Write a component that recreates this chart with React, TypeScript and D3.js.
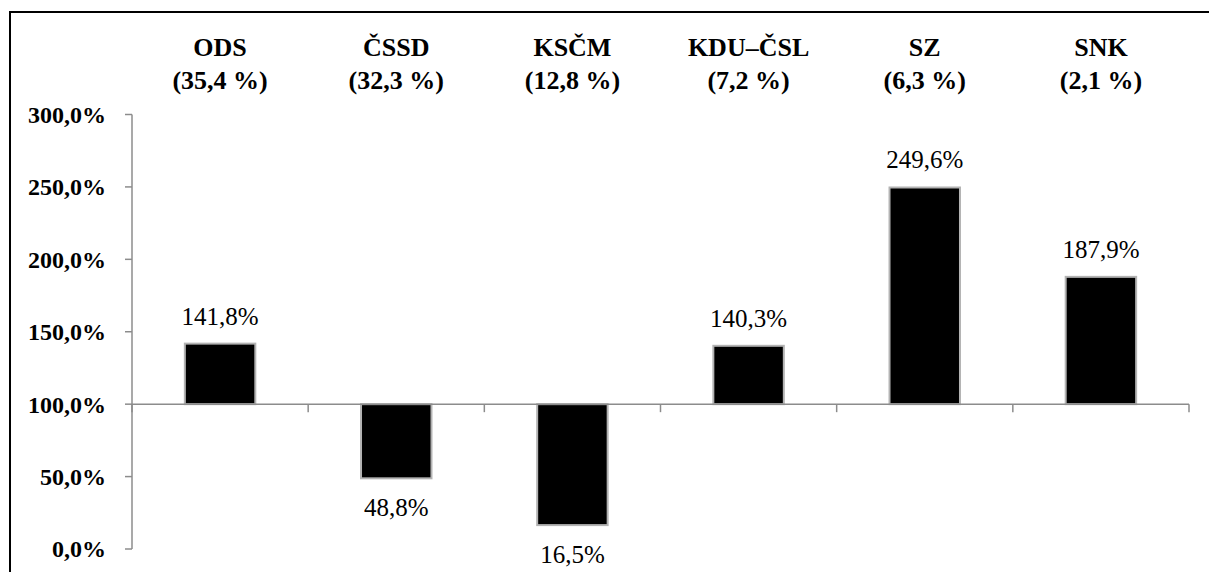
import React from "react";
import * as d3 from "d3";

const parties = ["ODS", "ČSSD", "KSČM", "KDU–ČSL", "SZ", "SNK"];
const shares = ["35,4", "32,3", "12,8", "7,2", "6,3", "2,1"];
const values = [141.8, 48.8, 16.5, 140.3, 249.6, 187.9];
const yTicks = [0, 50, 100, 150, 200, 250, 300];

const width = 1209;
const height = 572;
const font = `"Liberation Serif"`;

const fmt = (v: number, digits = 1) => v.toFixed(digits).replace(".", ",");

const App: React.FC = () => {
  const plot = { left: 132, right: 1189, top: 114.5, bottom: 549 };

  const yScale = d3.scaleLinear().domain([0, 300]).range([plot.bottom, plot.top]);

  // category bands for the ticks, bars narrower inside each band
  const xBand = d3
    .scaleBand<string>()
    .domain(parties)
    .range([plot.left, plot.right]);

  const barScale = d3
    .scaleBand<string>()
    .domain(parties)
    .range([plot.left, plot.right])
    .paddingInner(0.6)
    .paddingOuter(0.3);

  const base = yScale(100);
  const boundaries = [...parties.map((p) => xBand(p) as number), plot.right];

  return (
    <div style={{ position: "absolute", left: 0, top: 0, width, height, overflow: "hidden" }}>
      <svg width={width} height={height} style={{ display: "block", background: "white" }}>
        {/* outer frame */}
        <rect x={10} y={12} width={1400} height={800} fill="none" stroke="black" strokeWidth={2} />

        {/* y axis */}
        <line x1={plot.left} x2={plot.left} y1={plot.top} y2={plot.bottom} stroke="#8c8c8c" strokeWidth={1.5} />
        {yTicks.map((t) => (
          <g key={`yt-${t}`}>
            <line x1={plot.left - 7} x2={plot.left} y1={yScale(t)} y2={yScale(t)} stroke="#8c8c8c" strokeWidth={1.5} />
            <text
              x={106}
              y={yScale(t)}
              dy="0.35em"
              textAnchor="end"
              style={{ fontFamily: font, fontWeight: "bold", fontSize: 24 }}
              fill="#000"
            >
              {fmt(t)}%
            </text>
          </g>
        ))}

        {/* bars */}
        {parties.map((p, i) => {
          const x = barScale(p) as number;
          const yv = yScale(values[i]);
          const top = Math.min(yv, base);
          const h = Math.abs(yv - base);
          const cx = x + barScale.bandwidth() / 2;
          const above = values[i] >= 100;
          return (
            <g key={`bar-${p}`}>
              <rect
                x={x}
                y={top}
                width={barScale.bandwidth()}
                height={h}
                fill="#000"
                stroke="#b3b3b3"
                strokeWidth={2}
              />
              <text
                x={cx}
                y={above ? yv - 19 : yv + 38}
                textAnchor="middle"
                style={{ fontFamily: font, fontSize: 25 }}
                fill="#000"
              >
                {fmt(values[i])}%
              </text>
            </g>
          );
        })}

        {/* category axis at 100 % */}
        <line x1={plot.left} x2={plot.right} y1={base} y2={base} stroke="#8c8c8c" strokeWidth={1.5} />
        {boundaries.map((bx, i) => (
          <line key={`xt-${i}`} x1={bx} x2={bx} y1={base} y2={base + 8} stroke="#8c8c8c" strokeWidth={1.5} />
        ))}

        {/* category labels at the top */}
        {parties.map((p, i) => {
          const cx = (xBand(p) as number) + xBand.bandwidth() / 2;
          return (
            <g key={`lbl-${p}`}>
              <text x={cx} y={56} textAnchor="middle" style={{ fontFamily: font, fontWeight: "bold", fontSize: 26 }} fill="#000">
                {p}
              </text>
              <text x={cx} y={89} textAnchor="middle" style={{ fontFamily: font, fontWeight: "bold", fontSize: 26 }} fill="#000">
                ({shares[i]} %)
              </text>
            </g>
          );
        })}
      </svg>
    </div>
  );
};

export default App;
